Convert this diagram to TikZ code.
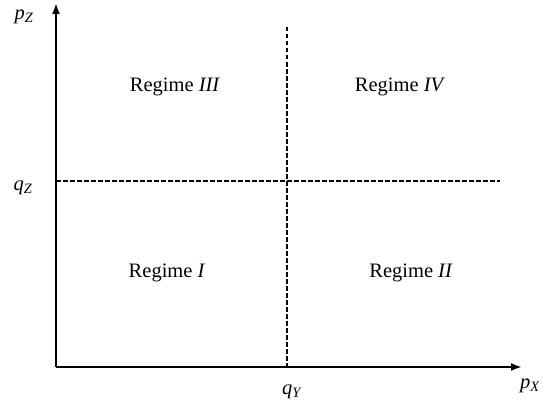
\documentclass[tikz,border=0pt]{standalone}
\usepackage{fontspec}
\setmainfont{Liberation Serif}
\usetikzlibrary{arrows.meta}

\begin{document}
\begin{tikzpicture}[x=1pt,y=-1pt,font=\fontsize{20.5}{24}\selectfont,
  axis/.style={line width=2pt,-{Latex[length=11pt,width=8pt]}},
  border/.style={line width=1.4pt,dash pattern=on 4.5pt off 2.5pt}]
\useasboundingbox (0,0) rectangle (543,412);
\coordinate (O) at (56,367); \coordinate (X) at (522,367); \coordinate (Y) at (56,3);
\coordinate (V) at (287,27); \coordinate (VB) at (287,367);
\coordinate (H) at (56,181); \coordinate (HE) at (500,181);
\draw[axis] (O)--(X);
\draw[axis] (O)--(Y);
\draw[border] (V)--(VB);
\draw[border] (H)--(HE);
\node (pz) at (24,17) {\textit{p}\textsubscript{\textit{Z}}};
\node (qz) at (23,188) {\textit{q}\textsubscript{\textit{Z}}};
\node (qy) at (292,392) {\textit{q}\textsubscript{\textit{Y}}};
\node (px) at (530,386) {\textit{p}\textsubscript{\textit{X}}};
\node (r3) at (175,87) {Regime \textit{III}};
\node (r4) at (400,87) {Regime \textit{IV}};
\node (r1) at (167,273) {Regime \textit{I}};
\node (r2) at (411,273) {Regime \textit{II}};
\end{tikzpicture}
\end{document}
